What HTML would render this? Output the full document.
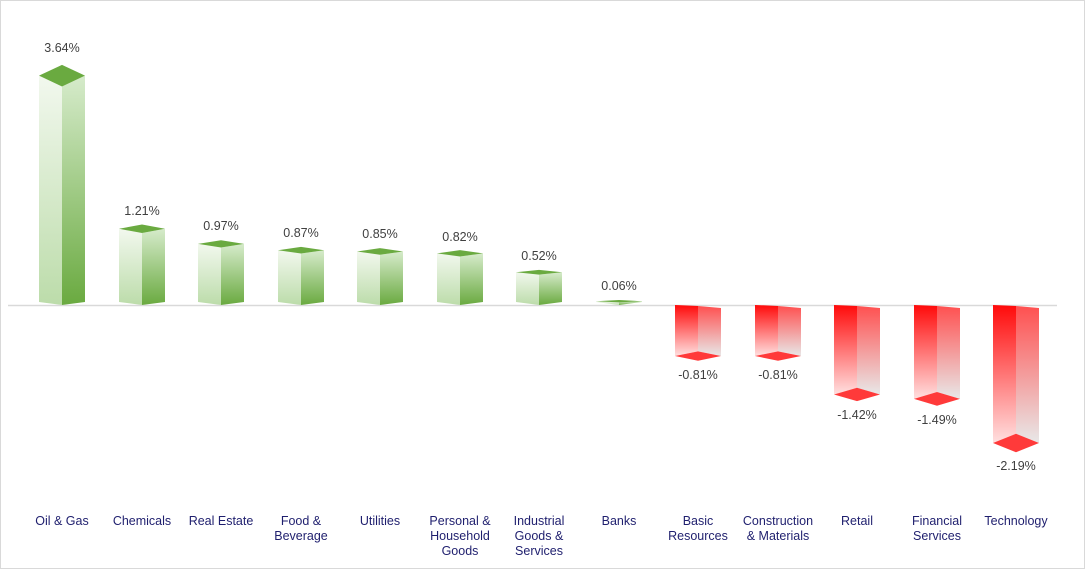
<!DOCTYPE html>
<html><head><style>
html,body{margin:0;padding:0;background:#fff}
svg{display:block}
text{font-family:"Liberation Sans",sans-serif}
</style></head><body>
<svg id="s" width="1085" height="569" xmlns="http://www.w3.org/2000/svg">
<defs>
<linearGradient id="gl" x1="0" y1="0" x2="0" y2="1"><stop offset="0" stop-color="#f2f8ee"/><stop offset="1" stop-color="#bcdcaa"/></linearGradient>
<linearGradient id="gr" x1="0" y1="0" x2="0" y2="1"><stop offset="0" stop-color="#d6ebcb"/><stop offset="1" stop-color="#6aaa40"/></linearGradient>
<linearGradient id="rl" x1="0" y1="0" x2="0" y2="1"><stop offset="0" stop-color="#ff0a0a"/><stop offset="1" stop-color="#ffe0e0"/></linearGradient>
<linearGradient id="rr" x1="0" y1="0" x2="0" y2="1"><stop offset="0" stop-color="#ff5050"/><stop offset="1" stop-color="#e8e8e8"/></linearGradient>
</defs>
<rect x="0.5" y="0.5" width="1084" height="568" fill="#fff" stroke="#d9d9d9"/>
<line x1="8" y1="305.5" x2="1057" y2="305.5" stroke="#d9d9d9" stroke-width="1.5"/>
<g id="bars"></g>
<g font-size="12.5" fill="#404040" text-anchor="middle">
<text x="62" y="52">3.64%</text>
<text x="142" y="215">1.21%</text>
<text x="221" y="230">0.97%</text>
<text x="301" y="237">0.87%</text>
<text x="380" y="238">0.85%</text>
<text x="460" y="241">0.82%</text>
<text x="539" y="260">0.52%</text>
<text x="619" y="290">0.06%</text>
<text x="698" y="379">-0.81%</text>
<text x="778" y="379">-0.81%</text>
<text x="857" y="419">-1.42%</text>
<text x="937" y="424">-1.49%</text>
<text x="1016" y="470">-2.19%</text>
</g>
<g font-size="12.5" fill="#1f1f6e" text-anchor="middle">
<text x="62" y="525">Oil &amp; Gas</text>
<text x="142" y="525">Chemicals</text>
<text x="221" y="525">Real Estate</text>
<text x="301" y="525">Food &amp;</text><text x="301" y="540">Beverage</text>
<text x="380" y="525">Utilities</text>
<text x="460" y="525">Personal &amp;</text><text x="460" y="540">Household</text><text x="460" y="555">Goods</text>
<text x="539" y="525">Industrial</text><text x="539" y="540">Goods &amp;</text><text x="539" y="555">Services</text>
<text x="619" y="525">Banks</text>
<text x="698" y="525">Basic</text><text x="698" y="540">Resources</text>
<text x="778" y="525">Construction</text><text x="778" y="540">&amp; Materials</text>
<text x="857" y="525">Retail</text>
<text x="937" y="525">Financial</text><text x="937" y="540">Services</text>
<text x="1016" y="525">Technology</text>
</g>
</svg>
<script>
var d=[[62,3.64],[142,1.21],[221,.97],[301,.87],[380,.85],[460,.82],[539,.52],[619,.06],[698,-.81],[778,-.81],[857,-1.42],[937,-1.49],[1016,-2.19]];
var g=document.getElementById('bars'),h='';
function P(a){return '<polygon points="'+a.map(function(p){return p.join(',')}).join(' ')+'"';}
d.forEach(function(b){var c=b[0],v=b[1],w=23,B=305,y=B-v*63,k0=3;
if(v>0){var k=1+2.7*v;
h+=P([[c-w,y],[c,y+k],[c,B],[c-w,B-k0]])+' fill="url(#gl)"/>';
h+=P([[c,y+k],[c+w,y],[c+w,B-k0],[c,B]])+' fill="url(#gr)"/>';
h+=P([[c-w,y],[c,y-k],[c+w,y],[c,y+k]])+' fill="#6aaa40"/>';
}else{var k=2+3.3*(-v);y=y-k;
h+=P([[c-w,B],[c,B+1],[c,y],[c-w,y+k]])+' fill="url(#rl)"/>';
h+=P([[c,B+1],[c+w,B+3],[c+w,y+k],[c,y]])+' fill="url(#rr)"/>';
h+=P([[c-w,y+k],[c,y],[c+w,y+k],[c,y+2*k]])+' fill="#ff3a3a"/>';
}});
g.innerHTML=h;
</script>
</body></html>
